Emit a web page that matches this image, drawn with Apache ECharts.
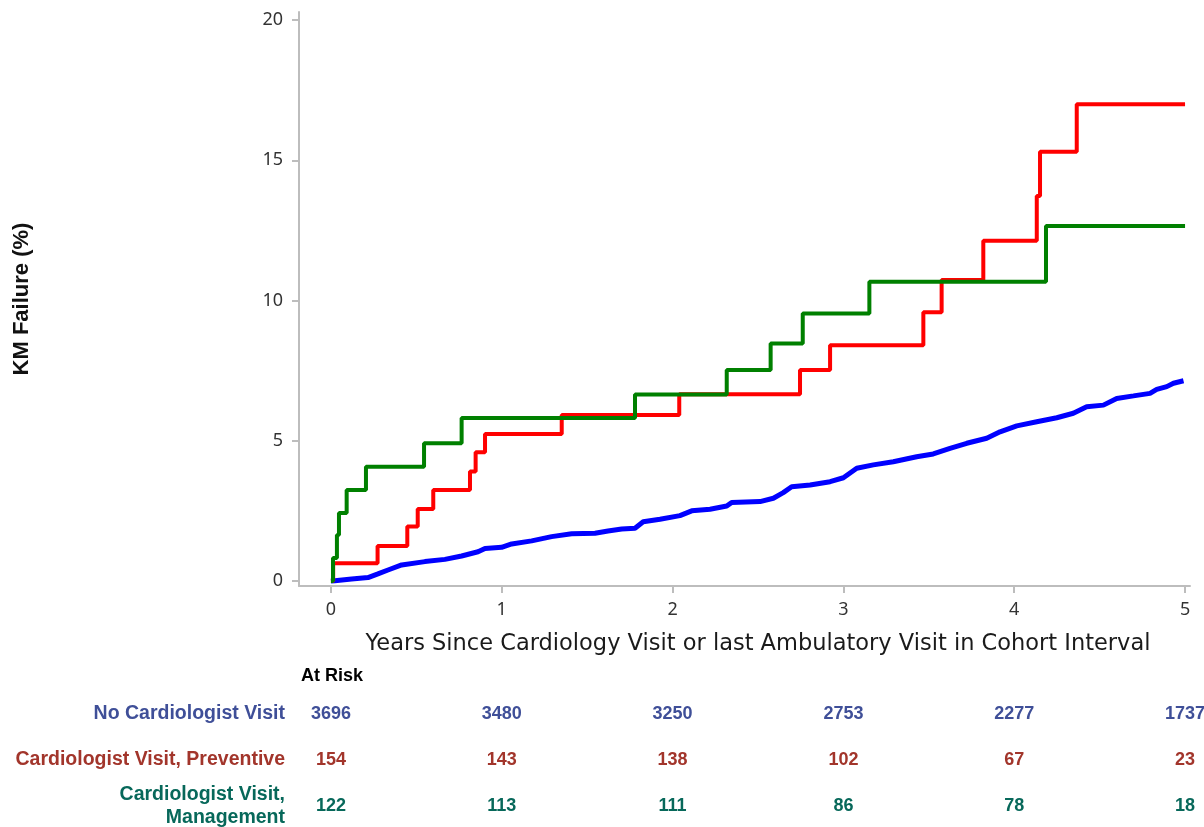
<!DOCTYPE html>
<html><head><meta charset="utf-8">
<script src="https://cdn.jsdelivr.net/npm/echarts@6/dist/echarts.min.js"></script>
<style>html,body{margin:0;padding:0;background:#fff}#c{width:1204px;height:827px}</style>
</head><body><div id="c"></div>
<script>
// ---- data ----
const xTicks = [0, 1, 2, 3, 4, 5];
const yTicks = [0, 5, 10, 15, 20];

const blueKM = [[0,0],[0.023,0.01],[0.121,0.07],[0.217,0.12],[0.275,0.25],[0.334,0.39],[0.414,0.57],[0.55,0.69],[0.667,0.77],[0.765,0.89],[0.861,1.04],[0.902,1.16],[0.999,1.2],[1.058,1.32],[1.175,1.43],[1.292,1.58],[1.409,1.68],[1.546,1.7],[1.622,1.78],[1.702,1.85],[1.78,1.88],[1.828,2.11],[1.926,2.2],[2.043,2.33],[2.112,2.5],[2.219,2.56],[2.317,2.67],[2.346,2.8],[2.512,2.83],[2.59,2.95],[2.648,3.15],[2.697,3.36],[2.805,3.42],[2.922,3.54],[3.0,3.68],[3.078,4.02],[3.175,4.14],[3.292,4.25],[3.429,4.43],[3.526,4.53],[3.624,4.73],[3.722,4.91],[3.839,5.09],[3.917,5.32],[4.015,5.53],[4.132,5.68],[4.249,5.82],[4.346,5.98],[4.424,6.21],[4.522,6.27],[4.6,6.51],[4.698,6.6],[4.795,6.69],[4.834,6.83],[4.893,6.93],[4.932,7.05],[4.991,7.14]];

const redKM = [[0,0],[0.013,0.63],[0.273,1.25],[0.447,1.94],[0.508,2.57],[0.599,3.24],[0.814,3.90],[0.847,4.59],[0.902,5.24],[1.351,5.92],[2.039,6.66],[2.746,7.52],[2.922,8.41],[3.468,9.58],[3.575,10.73],[3.819,12.13],[4.132,13.73],[4.151,15.31],[4.366,17.0],[5.0,17.0]];

const greenKM = [[0,0],[0.012,0.82],[0.035,1.64],[0.047,2.42],[0.092,3.24],[0.205,4.07],[0.545,4.91],[0.765,5.81],[1.78,6.65],[2.317,7.52],[2.574,8.47],[2.762,9.54],[3.152,10.67],[4.186,12.66],[5.0,12.66]];

const groups = ['No Cardiologist Visit', 'Cardiologist Visit, Preventive', 'Cardiologist Visit,\nManagement'];
const riskTimes = [0, 1, 2, 3, 4, 5];
const riskNo = [3696, 3480, 3250, 2753, 2277, 1737];
const riskPrev = [154, 143, 138, 102, 67, 23];
const riskMgmt = [122, 113, 111, 86, 78, 18];

const xTitle = 'Years Since Cardiology Visit or last Ambulatory Visit in Cohort Interval';
const yTitle = 'KM Failure (%)';
const riskTitle = 'At Risk';

// ---- styles ----
const lineColors = ['#0000ff', '#ff0000', '#008000'];
const textColors = ['#3f4f98', '#a2352b', '#07685a'];
const axisGray = '#bdbdbd';

const riskRows = [riskNo, riskPrev, riskMgmt];

const chart = echarts.init(document.getElementById('c'), null, {renderer: 'canvas'});

const riskSeries = riskRows.map((row, r) => ({
  type: 'scatter',
  xAxisIndex: 1, yAxisIndex: 1,
  symbolSize: 1,
  itemStyle: {color: 'rgba(255,255,255,0)'},
  silent: true,
  clip: false,
  data: riskTimes.map((t, i) => [t, groups[r], row[i]]),
  label: {
    show: true, position: 'inside', opacity: 1,
    formatter: p => String(p.value[2]),
    color: textColors[r], textBorderWidth: 0,
    fontFamily: 'Liberation Sans', fontWeight: 'bold', fontSize: 18
  }
}));

chart.setOption({
  animation: false,
  backgroundColor: '#fff',
  grid: [
    {left: 299, right: 14, top: 12, bottom: 241, containLabel: false, outerBoundsMode: 'none'},
    {left: 299, right: 14, top: 691, height: 138, containLabel: false, outerBoundsMode: 'none'}
  ],
  title: {
    text: riskTitle, left: 301, top: 667, padding: 0,
    textStyle: {fontFamily: 'Liberation Sans', fontWeight: 'bold', fontSize: 18, color: '#000'}
  },
  graphic: [{
    type: 'text', x: 758, y: 644,
    style: {text: xTitle, fontFamily: 'DejaVu Sans', fontSize: 22.5, fill: '#1a1a1a', align: 'center', verticalAlign: 'middle'}
  }],
  xAxis: [
    {
      type: 'value', gridIndex: 0, min: -0.187, max: 5.029,
      axisLine: {show: true, onZero: false, lineStyle: {color: axisGray, width: 2}},
      axisTick: {show: true, length: 7, customValues: xTicks, lineStyle: {color: axisGray, width: 2}},
      axisLabel: {customValues: xTicks, margin: 15, fontFamily: 'Noto Sans', fontSize: 18, color: '#333'},
      splitLine: {show: false}
    },
    {
      type: 'value', gridIndex: 1, min: -0.187, max: 5.029, show: false
    }
  ],
  yAxis: [
    {
      type: 'value', gridIndex: 0, min: -0.18, max: 20.29,
      name: yTitle, nameLocation: 'middle', nameGap: 266, nameRotate: 90,
      nameTextStyle: {fontFamily: 'Liberation Sans', fontWeight: 'bold', fontSize: 22, color: '#111'},
      axisLine: {show: true, onZero: false, lineStyle: {color: axisGray, width: 2}},
      axisTick: {show: true, length: 7, customValues: yTicks, lineStyle: {color: axisGray, width: 2}},
      axisLabel: {customValues: yTicks, margin: 16, fontFamily: 'Noto Sans', fontSize: 18, color: '#333'},
      splitLine: {show: false}
    },
    {
      type: 'category', gridIndex: 1, data: groups, inverse: true,
      axisLine: {show: false}, axisTick: {show: false}, splitLine: {show: false},
      axisLabel: {
        margin: 14, fontFamily: 'Liberation Sans', fontWeight: 'bold', fontSize: 19.5, lineHeight: 23,
        color: (v, i) => textColors[i], align: 'right'
      }
    }
  ],
  series: [
    {type: 'line', data: blueKM, showSymbol: false, symbol: 'none', lineStyle: {color: lineColors[0], width: 5}, z: 2},
    {type: 'line', data: redKM, step: 'end', showSymbol: false, symbol: 'none', lineStyle: {color: lineColors[1], width: 4}, z: 3},
    {type: 'line', data: greenKM, step: 'end', showSymbol: false, symbol: 'none', lineStyle: {color: lineColors[2], width: 4}, z: 4}
  ].concat(riskSeries)
});
</script>
</body></html>
